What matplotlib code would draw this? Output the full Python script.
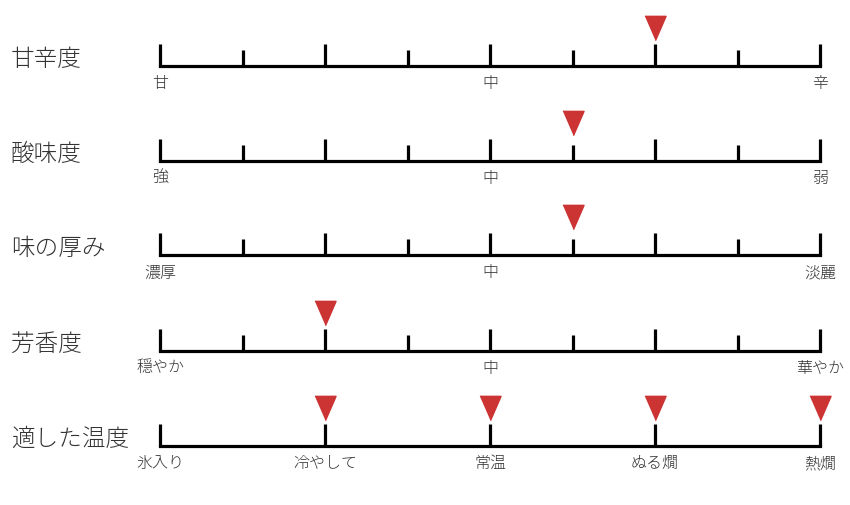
import matplotlib
matplotlib.use("Agg")
import matplotlib.pyplot as plt
import matplotlib.transforms as mtransforms

plt.rcParams['font.family'] = ['Noto Sans CJK JP', 'DejaVu Sans']

# データ
titles = ['甘辛度', '酸味度', '味の厚み', '芳香度', '適した温度']
label_pos = [[0, 4, 8], [0, 4, 8], [0, 4, 8], [0, 4, 8], [0, 2, 4, 6, 8]]
labels = [
    ['甘', '中', '辛'],
    ['強', '中', '弱'],
    ['濃厚', '中', '淡麗'],
    ['穏やか', '中', '華やか'],
    ['氷入り', '冷やして', '常温', 'ぬる燗', '熱燗'],
]
tick_pos = [list(range(9))] * 4 + [[0, 2, 4, 6, 8]]
markers = [[6], [5], [5], [2], [2, 4, 6, 8]]

W, H = 850, 506
baselines = [66.5, 161.5, 256, 351.5, 446.5]
red = '#cc3333'
txt = '#333333'

# 下向き三角（幅より少し縦長）
tri = [(-1, 1.15), (1, 1.15), (0, -1.15)]

fig = plt.figure(figsize=(W / 100, H / 100), dpi=100)

for i in range(len(titles)):
    base = baselines[i]
    ax = fig.add_axes([160 / W, (H - base - 30) / H, 660 / W, 80 / H])
    ax.set_xlim(0, 8)
    ax.set_ylim(-30, 50)
    ax.axis('off')

    # 軸線
    ax.hlines(0, 0, 8, color='black', lw=2.3, capstyle='projecting', clip_on=False)
    # 目盛り
    for t in tick_pos[i]:
        h = 22 if t % 2 == 0 else 16
        ax.vlines(t, 0, h, color='black', lw=2.3, clip_on=False)
    # ラベル
    for p, s in zip(label_pos[i], labels[i]):
        ax.text(p, -17, s, ha='center', va='center', fontsize=11.5, color=txt,
                fontweight='light')
    # マーカー
    ax.plot(markers[i], [38] * len(markers[i]), linestyle='none', marker=tri,
            markersize=17.5, color=red, clip_on=False)
    # タイトル
    trans = mtransforms.blended_transform_factory(fig.transFigure, ax.transData)
    ax.text(11 / W, 7, titles[i], transform=trans, ha='left', va='center',
            fontsize=17, color=txt, fontweight='light')

fig.savefig('out.png', dpi=100, facecolor='white')
